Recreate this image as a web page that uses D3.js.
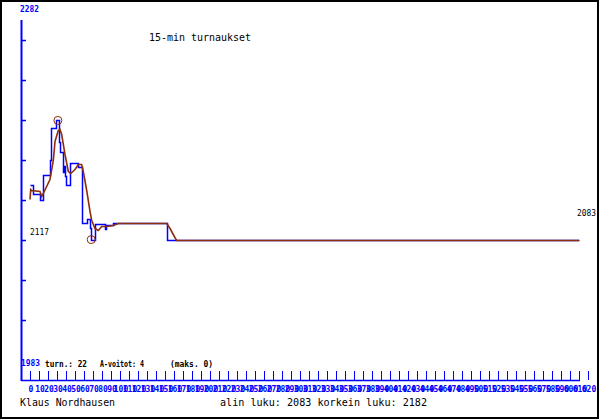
<!DOCTYPE html>
<html><head><meta charset="utf-8">
<script src="https://cdn.jsdelivr.net/npm/d3@7"></script>
<style>body{margin:0;background:#fff}svg{display:block}</style>
</head><body><svg id="c" width="600" height="420"></svg>
<script>
// ---- data ----
const title = "15-min turnaukset";
const player = "Klaus Nordhausen";
const statsText = "alin luku: 2083  korkein luku: 2182";
const yTop = 2282, yBottom = 1983;
const startLabel = "2117", endLabel = "2083";
const infoParts = ["turn.: 22", "A-voitot: 4", "(maks. 0)"];
// blue step series: [index, rating]
const stepIdx = [0, 3.5, 11, 14, 22, 23, 28.5, 32, 33, 37, 38, 39, 40, 44, 53, 58, 63, 67, 68, 72, 83, 84, 92, 152, 610];
const stepVal = [2128, 2121, 2116, 2137, 2149, 2176, 2182, 2164, 2156, 2139, 2144, 2136, 2128, 2147, 2143, 2097, 2100, 2093, 2083, 2096, 2092, 2095, 2097, 2083, 2083];
// brown smoothed series
const avgIdx = [0, 0.8, 1.9, 11.1, 13, 14.8, 22.2, 25.9, 27.8, 31.4, 33.3, 35.2, 38.9, 42.6, 45.2, 50, 53.7, 57.4, 59.2, 63, 66.7, 68.6, 72.2, 75.9, 79.7, 85.2, 92.6, 98, 152, 155.6, 161, 163, 610];
const avgVal = [2117, 2125, 2124, 2123, 2119.5, 2122, 2133, 2149, 2165, 2174, 2175, 2171, 2154, 2140, 2138, 2142, 2146, 2146, 2140, 2124, 2107, 2099, 2093, 2091, 2094.5, 2094.5, 2095, 2097, 2097, 2093, 2085, 2083, 2083];
const peak = [31, 2182], low = [68, 2083];
const xTickVals = d3.range(0, 621, 10);

// ---- drawing ----
const svg = d3.select("#c");
const blue = "#0000ff", brown = "#8b2f0c";
const x = d3.scaleLinear().domain([0, 620]).range([30, 588]);
const y = d3.scaleLinear().domain([yBottom, yTop]).range([360, 0]);

svg.append("rect").attr("x", 1).attr("y", 1).attr("width", 597).attr("height", 417)
  .attr("fill", "none").attr("stroke", "#000").attr("stroke-width", 2);

// y axis
svg.append("line").attr("x1", 21.5).attr("x2", 21.5).attr("y1", 20).attr("y2", 381)
  .attr("stroke", blue).attr("stroke-width", 2);
const yTicks = d3.range(1, 9).map(k => yTop - k * (yTop - yBottom) / 9);
svg.selectAll(".yt").data(yTicks).join("line")
  .attr("x1", 21).attr("x2", 26).attr("y1", d => Math.round(y(d)) + 0.5).attr("y2", d => Math.round(y(d)) + 0.5)
  .attr("stroke", blue).attr("stroke-width", 1.5);

// x axis
svg.append("line").attr("x1", 21).attr("x2", 580).attr("y1", 380.5).attr("y2", 380.5)
  .attr("stroke", blue).attr("stroke-width", 1.5);
svg.selectAll(".xt").data(xTickVals).join("line")
  .attr("x1", d => Math.round(x(d)) + 0.5).attr("x2", d => Math.round(x(d)) + 0.5)
  .attr("y1", 371).attr("y2", 380).attr("stroke", blue).attr("stroke-width", 1);
svg.selectAll(".xl").data(xTickVals).join("text")
  .attr("x", d => x(d) + 1).attr("y", 392).attr("text-anchor", "middle")
  .attr("font-family", "DejaVu Sans Mono").attr("font-size", 8).attr("font-weight", "bold")
  .attr("fill", blue).text(d => d);

// labels
const T = (t, xx, yy, size, col, opts = {}) => {
  const e = svg.append("text").attr("x", xx).attr("y", yy)
    .attr("font-family", "DejaVu Sans Mono").attr("font-size", size).attr("fill", col).text(t);
  if (opts.bold) e.attr("font-weight", "bold");
  if (opts.len) e.attr("textLength", opts.len).attr("lengthAdjust", "spacingAndGlyphs");
  return e;
};
T(String(yTop), 20, 12, 8.5, blue, {bold: true, len: 19});
T(String(yBottom), 21, 366, 8.5, blue, {bold: true, len: 19});
T(title, 149, 41, 10, "#000", {len: 102});
T(startLabel, 30, 235, 8.5, "#000", {len: 19});
T(endLabel, 577, 216, 8.5, "#000", {len: 19});
T(infoParts[0], 45, 367, 8, "#000", {bold: true, len: 42});
T(infoParts[1], 100, 367, 8, "#000", {bold: true, len: 44});
T(infoParts[2], 170, 367, 8, "#000", {bold: true, len: 43});
T(player, 20, 406, 10, "#000", {len: 95});
T(statsText, 220, 406, 10, "#000", {len: 207});

// series
const stepData = stepIdx.map((d, i) => [d, stepVal[i]]);
const avgData = avgIdx.map((d, i) => [d, avgVal[i]]);
svg.append("path").datum(stepData)
  .attr("d", d3.line().x(d => Math.round(x(d[0])) + 0.5).y(d => Math.round(y(d[1])) + 0.5).curve(d3.curveStepAfter))
  .attr("fill", "none").attr("stroke", blue).attr("stroke-width", 1.5);
svg.append("path").datum(avgData)
  .attr("d", d3.line().x(d => x(d[0])).y(d => Math.round(y(d[1])) + 0.5))
  .attr("fill", "none").attr("stroke", brown).attr("stroke-width", 1.6);
svg.selectAll(".mk").data([peak, low]).join("circle")
  .attr("cx", d => x(d[0])).attr("cy", d => y(d[1])).attr("r", 4)
  .attr("fill", "none").attr("stroke", brown).attr("stroke-width", 1);
</script></body></html>
